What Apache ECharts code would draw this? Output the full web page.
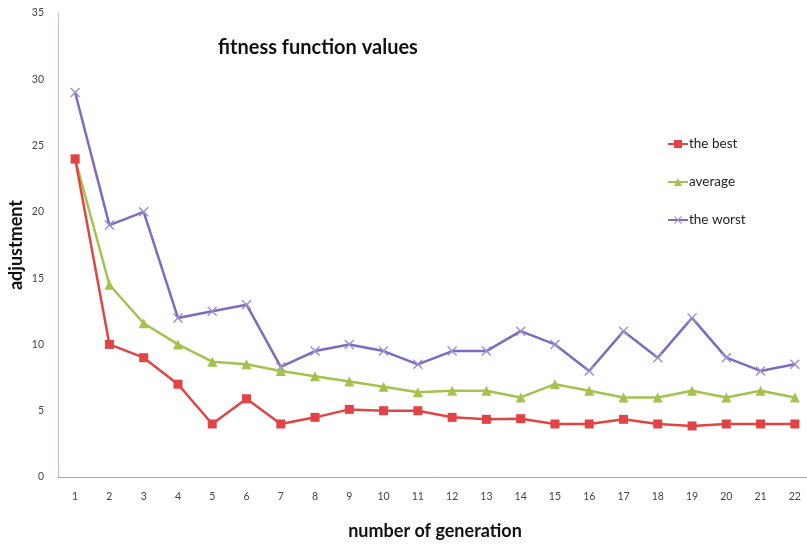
<!DOCTYPE html>
<html>
<head>
<meta charset="utf-8">
<script src="https://cdn.jsdelivr.net/npm/echarts@6/dist/echarts.min.js"></script>
<style>
  html, body { margin: 0; padding: 0; background: #fff; }
  #chart { width: 807px; height: 544px; }
</style>
</head>
<body>
<div id="chart"></div>
<script>
  // generations 1..22
  var generations = ['1', '2', '3', '4', '5', '6', '7', '8', '9', '10', '11',
    '12', '13', '14', '15', '16', '17', '18', '19', '20', '21', '22']
  var theBest = [24, 10, 9, 7, 4, 5.9, 4, 4.5, 5.1, 5, 5, 4.5, 4.35, 4.4, 4, 4, 4.35, 4, 3.85, 4, 4, 4]
  var average = [24, 14.5, 11.6, 10, 8.7, 8.5, 8, 7.6, 7.2, 6.8, 6.4, 6.5, 6.5, 6, 7, 6.5, 6, 6, 6.5, 6, 6.5, 6]
  var theWorst = [29, 19, 20, 12, 12.5, 13, 8.3, 9.5, 10, 9.5, 8.5, 9.5, 9.5, 11, 10, 8, 11, 9, 12, 9, 8, 8.5]

  var crossIcon = 'path://M0,1L1,0L5,4L9,0L10,1L6,5L10,9L9,10L5,6L1,10L0,9L4,5Z'
  var font = 'Lato, "Open Sans", sans-serif'

  var chart = echarts.init(document.getElementById('chart'))
  var option = {
    animation: false,
    backgroundColor: '#fff',
    textStyle: { fontFamily: font },
    title: {
      text: 'fitness function values',
      left: 213,
      top: 33,
      textStyle: { fontFamily: font, fontSize: 20, fontWeight: 'bold', color: '#111' }
    },
    legend: {
      orient: 'vertical',
      left: 662,
      top: 132,
      itemGap: 24,
      itemWidth: 20,
      itemHeight: 10,
      textStyle: { fontFamily: font, fontSize: 13.5, color: '#222', padding: [0, 0, 0, -4] },
      data: ['the best', 'average', 'the worst']
    },
    grid: {
      left: 58,
      top: 13,
      width: 754,
      height: 464,
      outerBoundsMode: 'none'
    },
    xAxis: {
      type: 'category',
      data: generations,
      name: 'number of generation',
      nameLocation: 'middle',
      nameGap: 45,
      nameTextStyle: { fontFamily: font, fontSize: 18, fontWeight: 'bold', color: '#111' },
      axisLine: { lineStyle: { color: '#a8a8a8', width: 1 } },
      axisTick: { show: false },
      axisLabel: { interval: 0, fontSize: 10.5, color: '#444', margin: 14 }
    },
    yAxis: {
      type: 'value',
      min: 0,
      max: 35,
      interval: 5,
      name: 'adjustment',
      nameLocation: 'middle',
      nameGap: 33,
      nameMoveOverlap: false,
      nameRotate: 90,
      nameTextStyle: { fontFamily: font, fontSize: 18, fontWeight: 'bold', color: '#111' },
      axisLine: { show: true, lineStyle: { color: '#b4bfcf', width: 1 } },
      axisTick: { show: false },
      splitLine: { show: false },
      axisLabel: { fontSize: 10.5, color: '#444', margin: 14 }
    },
    series: [
      {
        name: 'the best',
        type: 'line',
        data: theBest,
        symbol: 'rect',
        symbolSize: 9,
        lineStyle: { color: '#e04444', width: 2.5 },
        itemStyle: { color: '#e04444' },
        z: 3
      },
      {
        name: 'average',
        type: 'line',
        data: average,
        symbol: 'triangle',
        symbolSize: 10,
        lineStyle: { color: '#a3c24e', width: 2.5 },
        itemStyle: { color: '#a3c24e' },
        z: 2
      },
      {
        name: 'the worst',
        type: 'line',
        data: theWorst,
        symbol: crossIcon,
        symbolSize: 10,
        lineStyle: { color: '#7e6bbd', width: 2.5 },
        itemStyle: { color: '#9a8fd0' },
        z: 1
      }
    ]
  }
  chart.setOption(option)
</script>
</body>
</html>
